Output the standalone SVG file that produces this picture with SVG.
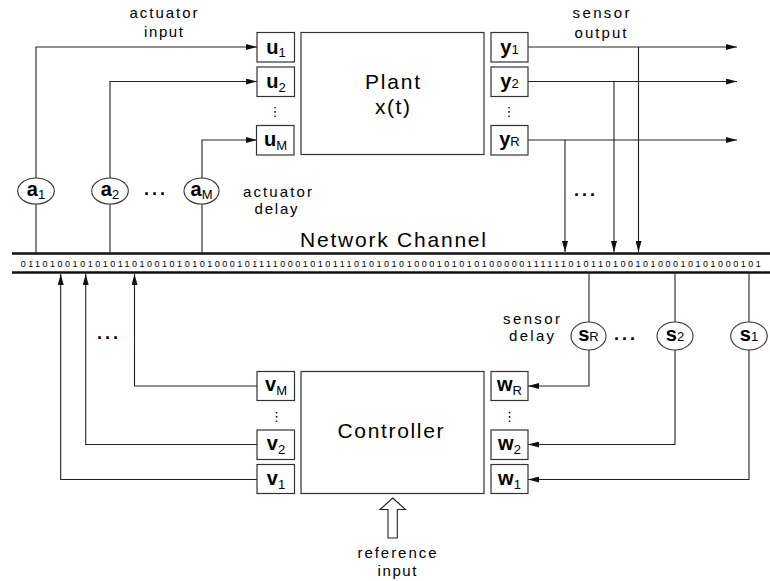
<svg xmlns="http://www.w3.org/2000/svg" width="770" height="581" viewBox="0 0 770 581">
<style>
text{font-family:"Liberation Sans",Arial,sans-serif;fill:#000}
.box{fill:#fff;stroke:#333;stroke-width:1.2}
.ell{fill:#fff;stroke:#333;stroke-width:1.1}
.lbl{font-size:20px;font-weight:bold}
.sub{font-size:13px;font-weight:normal}
.big{font-size:21px}
.sm{font-size:15px}
.dots{font-size:18px;font-weight:bold;letter-spacing:3px}
.vd{font-family:"DejaVu Sans",sans-serif;font-size:13px}
.ln{fill:none;stroke:#222;stroke-width:1.1}
.ch{stroke:#111;stroke-width:2.4}
.bits{font-size:9px}
</style>
<defs>
<marker id="ah" markerUnits="userSpaceOnUse" markerWidth="11" markerHeight="6" refX="11" refY="3" orient="auto">
<path d="M0,0 L11,3 L0,6 z" fill="#111"/>
</marker>
</defs>

<g id="channel">
<line class="ch" x1="12" y1="253.5" x2="770" y2="253.5"/>
<line class="ch" x1="12" y1="272.5" x2="770" y2="272.5"/>
<text class="big" x="300" y="247" textLength="186">Network Channel</text>
<text class="bits" x="20.7" y="267" textLength="740">0110100101010110100101010100010111100010101110101010100010101010000011111101011010010100010101000101</text>
</g>

<g id="connectors">
<path class="ln" d="M36,178 V47 H257" marker-end="url(#ah)"/>
<path class="ln" d="M36,204 V253"/>
<path class="ln" d="M110,178 V81.5 H257" marker-end="url(#ah)"/>
<path class="ln" d="M110,204 V253"/>
<path class="ln" d="M202,178 V140 H257" marker-end="url(#ah)"/>
<path class="ln" d="M202,204 V253"/>
<path class="ln" d="M528,47 H737" marker-end="url(#ah)"/>
<path class="ln" d="M528,81.5 H737" marker-end="url(#ah)"/>
<path class="ln" d="M528,140 H737" marker-end="url(#ah)"/>
<path class="ln" d="M638.5,47 V252" marker-end="url(#ah)"/>
<path class="ln" d="M614,81.5 V252" marker-end="url(#ah)"/>
<path class="ln" d="M565,140 V252" marker-end="url(#ah)"/>
<path class="ln" d="M589,274 V322"/>
<path class="ln" d="M589,350 V386 H528" marker-end="url(#ah)"/>
<path class="ln" d="M675,274 V322"/>
<path class="ln" d="M675,350 V444.5 H528" marker-end="url(#ah)"/>
<path class="ln" d="M749,274 V322"/>
<path class="ln" d="M749,350 V479.5 H528" marker-end="url(#ah)"/>
<path class="ln" d="M257,386 H134.5 V274" marker-end="url(#ah)"/>
<path class="ln" d="M257,444.5 H85.7 V274" marker-end="url(#ah)"/>
<path class="ln" d="M257,479.5 H60.7 V274" marker-end="url(#ah)"/>
<polygon points="392.7,498 405.5,509.5 397.3,509.5 397.3,538 388,538 388,509.5 380,509.5" fill="#fff" stroke="#222" stroke-width="1.1"/>
</g>

<g id="plant">
<rect class="box" x="301" y="32.5" width="183" height="122"/>
<text class="big" x="392.5" y="88.5" text-anchor="middle" textLength="55">Plant</text>
<text class="big" x="392.5" y="113.5" text-anchor="middle" textLength="35">x(t)</text>
</g>
<g id="controller">
<rect class="box" x="301" y="371.5" width="183" height="122"/>
<text class="big" x="390.5" y="438" text-anchor="middle" textLength="106">Controller</text>
</g>

<g id="u1"><rect class="box" x="257" y="32.5" width="37.5" height="29.5"/><text class="lbl" x="276" y="53.5" text-anchor="middle">u<tspan class="sub" dy="3.5">1</tspan></text></g>
<g id="u2"><rect class="box" x="257" y="67" width="37.5" height="29.5"/><text class="lbl" x="276" y="88" text-anchor="middle">u<tspan class="sub" dy="3.5">2</tspan></text></g>
<g id="uM"><rect class="box" x="256.5" y="125.5" width="37.5" height="29.5"/><text class="lbl" x="275.5" y="146" text-anchor="middle">u<tspan class="sub" dy="3.5">M</tspan></text></g>
<g id="y1"><rect class="box" x="491" y="32.5" width="37" height="29.5"/><text class="lbl" x="509.5" y="53.5" text-anchor="middle">y<tspan class="sub" dy="0">1</tspan></text></g>
<g id="y2"><rect class="box" x="491" y="67" width="37" height="29.5"/><text class="lbl" x="509.5" y="88" text-anchor="middle">y<tspan class="sub" dy="0">2</tspan></text></g>
<g id="yR"><rect class="box" x="491" y="125.5" width="37" height="29.5"/><text class="lbl" x="509.5" y="146" text-anchor="middle">y<tspan class="sub" dy="0">R</tspan></text></g>
<g id="vM"><rect class="box" x="257" y="371.5" width="37.5" height="29"/><text class="lbl" x="276" y="391" text-anchor="middle">v<tspan class="sub" dy="3.5">M</tspan></text></g>
<g id="v2"><rect class="box" x="257" y="430" width="37.5" height="29.5"/><text class="lbl" x="276" y="450" text-anchor="middle">v<tspan class="sub" dy="3.5">2</tspan></text></g>
<g id="v1"><rect class="box" x="257" y="464.5" width="37.5" height="29"/><text class="lbl" x="276" y="485" text-anchor="middle">v<tspan class="sub" dy="3.5">1</tspan></text></g>
<g id="wR"><rect class="box" x="491" y="371.5" width="37" height="29"/><text class="lbl" x="509.5" y="391" text-anchor="middle">w<tspan class="sub" dy="3.5">R</tspan></text></g>
<g id="w2"><rect class="box" x="491" y="430" width="37" height="29.5"/><text class="lbl" x="509.5" y="450" text-anchor="middle">w<tspan class="sub" dy="3.5">2</tspan></text></g>
<g id="w1"><rect class="box" x="491" y="464.5" width="37" height="29"/><text class="lbl" x="509.5" y="485" text-anchor="middle">w<tspan class="sub" dy="3.5">1</tspan></text></g>

<g id="a1"><ellipse class="ell" cx="36" cy="191" rx="18.3" ry="13"/><text class="lbl" x="36" y="196" text-anchor="middle">a<tspan class="sub" dy="2.5">1</tspan></text></g>
<g id="a2"><ellipse class="ell" cx="110" cy="191" rx="18.3" ry="13"/><text class="lbl" x="110" y="196" text-anchor="middle">a<tspan class="sub" dy="2.5">2</tspan></text></g>
<g id="aM"><ellipse class="ell" cx="201.5" cy="191" rx="17.5" ry="13"/><text class="lbl" x="201.5" y="196" text-anchor="middle">a<tspan class="sub" dy="2.5">M</tspan></text></g>
<g id="sR"><ellipse class="ell" cx="588.5" cy="336" rx="17.5" ry="14"/><text class="lbl" x="588.5" y="341" text-anchor="middle">s<tspan class="sub" dy="0">R</tspan></text></g>
<g id="s2"><ellipse class="ell" cx="675" cy="336" rx="18" ry="14"/><text class="lbl" x="675" y="341" text-anchor="middle">s<tspan class="sub" dy="0">2</tspan></text></g>
<g id="s1"><ellipse class="ell" cx="749" cy="336" rx="18.3" ry="14"/><text class="lbl" x="749" y="341" text-anchor="middle">s<tspan class="sub" dy="0">1</tspan></text></g>

<g id="labels">
<text class="sm" x="163.5" y="18" text-anchor="middle" textLength="68">actuator</text>
<text class="sm" x="163.5" y="36.5" text-anchor="middle" textLength="39">input</text>
<text class="sm" x="601" y="18" text-anchor="middle" textLength="57">sensor</text>
<text class="sm" x="600.5" y="37.5" text-anchor="middle" textLength="52">output</text>
<text class="sm" x="277.5" y="197" text-anchor="middle" textLength="69">actuator</text>
<text class="sm" x="276" y="214" text-anchor="middle" textLength="43">delay</text>
<text class="sm" x="531.5" y="323.5" text-anchor="middle" textLength="57">sensor</text>
<text class="sm" x="531.5" y="341" text-anchor="middle" textLength="45">delay</text>
<text class="sm" x="397" y="558" text-anchor="middle" textLength="79">reference</text>
<text class="sm" x="397" y="575.5" text-anchor="middle" textLength="39">input</text>
<text class="dots" x="144" y="195">...</text>
<text class="dots" x="574" y="196">...</text>
<text class="dots" x="614" y="340">...</text>
<text class="dots" x="97" y="339">...</text>
<text class="vd" x="275" y="116" text-anchor="middle">⋮</text>
<text class="vd" x="509" y="116" text-anchor="middle">⋮</text>
<text class="vd" x="276.5" y="421" text-anchor="middle">⋮</text>
<text class="vd" x="509.5" y="421" text-anchor="middle">⋮</text>
</g>
</svg>
